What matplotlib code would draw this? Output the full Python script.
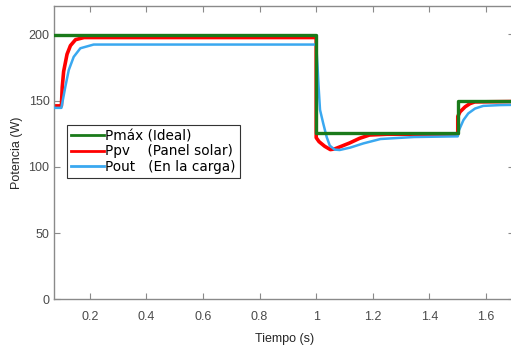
import numpy as np
import matplotlib
matplotlib.use("Agg")
import matplotlib.pyplot as plt

################################################################################
# data
# Pmax (ideal) - step profile
t_pmax = [0.075, 1.0, 1.0, 1.5, 1.5, 1.7]
p_pmax = [199.3, 199.3, 125.5, 125.5, 149.9, 149.9]

# Ppv (panel solar)
t_ppv = [0.075, 0.100, 0.103, 0.108, 0.120, 0.132, 0.150, 0.180, 1.0,
         1.0, 1.010, 1.030, 1.050, 1.065, 1.083, 1.118, 1.153, 1.188, 1.250,
         1.5, 1.5, 1.508, 1.526, 1.543, 1.560, 1.7]
p_ppv = [146.0, 146.0, 160.0, 172.0, 185.0, 191.5, 196.0, 197.6, 197.6,
         122.0, 119.0, 115.5, 113.0, 113.5, 115.0, 118.0, 121.5, 124.0, 124.6,
         124.6, 138.0, 141.5, 145.3, 147.7, 149.0, 149.3]

# Pout (en la carga)
t_pout = [0.075, 0.100, 0.114, 0.126, 0.1435, 0.167, 0.214, 1.0, 1.005,
          1.008, 1.0135, 1.025, 1.037, 1.048, 1.065, 1.083, 1.120, 1.167,
          1.227, 1.345, 1.5, 1.502, 1.520, 1.537, 1.561, 1.590, 1.649, 1.7]
p_pout = [144.5, 144.5, 160.5, 173.0, 183.0, 189.5, 192.3, 192.3, 175.0,
          162.0, 143.0, 132.6, 122.5, 116.0, 113.0, 112.7, 114.5, 117.7,
          121.0, 122.5, 123.0, 126.5, 135.3, 140.3, 144.0, 146.0, 146.6, 146.8]

x_ticks = [0.2, 0.4, 0.6, 0.8, 1.0, 1.2, 1.4, 1.6]
x_tick_labels = ["0.2", "0.4", "0.6", "0.8", "1", "1.2", "1.4", "1.6"]
y_ticks = [0, 50, 100, 150, 200]

################################################################################
# plot
W, H = 511, 347
fig = plt.figure(figsize=(W / 100, H / 100), dpi=100)
# axes right edge runs a little past the image border like the reference
ax = fig.add_axes([54.3 / W, (H - 299.3) / H, 460.1 / W, 293.3 / H])

ax.plot(t_ppv, p_ppv, color="#ff0000", lw=2.6, zorder=2,
        label="Ppv    (Panel solar)")
ax.plot(t_pout, p_pout, color="#3aa8f0", lw=1.8, zorder=3,
        label="Pout   (En la carga)")
ax.plot(t_pmax, p_pmax, color="#1a7a1a", lw=2.4, zorder=4,
        label="Pmáx (Ideal)")

ax.set_xlim(0.075, 1.7)
ax.set_ylim(0, 221.4)
ax.set_xticks(x_ticks)
ax.set_xticklabels(x_tick_labels)
ax.set_yticks(y_ticks)

gray = "#8a8a8a"
for s in ax.spines.values():
    s.set_color(gray)
    s.set_linewidth(1.0)
ax.tick_params(direction="in", length=4, width=0.8, color=gray,
               top=True, right=True, labelsize=9, labelcolor="#4a4a4a")
ax.tick_params(axis="x", pad=8.5)
ax.tick_params(axis="y", pad=3.5)
for lab in ax.get_xticklabels() + ax.get_yticklabels():
    lab.set_family("Liberation Sans")

ax.set_xlabel("Tiempo (s)", fontsize=9, family="Liberation Sans",
              color="#262626", labelpad=7)
ax.set_ylabel("Potencia (W)", fontsize=9, family="Liberation Sans",
              color="#262626", labelpad=4)

# legend order: Pmax, Ppv, Pout
handles, labels = ax.get_legend_handles_labels()
order = [2, 0, 1]
leg = ax.legend([handles[i] for i in order], [labels[i] for i in order],
                loc="upper left", bbox_to_anchor=(13 / 460.1, 1 - 119 / 293.3),
                fancybox=False, framealpha=1, edgecolor="#333333",
                handlelength=2.4, handletextpad=0.1, borderpad=0.3,
                labelspacing=0.1, borderaxespad=0,
                prop={"family": "DejaVu Sans", "size": 9.8})
leg.get_frame().set_linewidth(0.8)
for line in leg.get_lines():
    line.set_linewidth(2.0)

plt.savefig("out.png", dpi=100)
